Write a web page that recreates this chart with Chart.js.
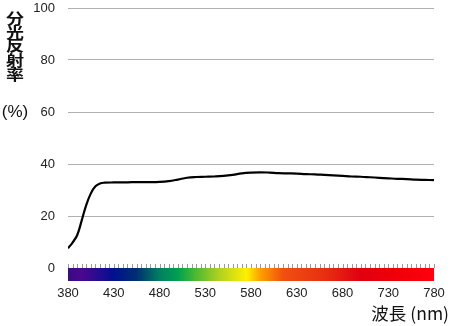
<!DOCTYPE html>
<html><head><meta charset="utf-8">
<script src="https://cdn.jsdelivr.net/npm/chart.js@4/dist/chart.umd.min.js"></script>
<style>html,body{margin:0;padding:0;background:#fff;}#wrap{width:450px;height:326px;position:relative;}</style>
</head><body><div id="wrap"><canvas id="c" width="450" height="326"></canvas></div>
<script>
const wavelengths = [380,385,390,395,400,405,410,415,420,430,440,450,460,470,480,490,500,510,520,530,540,550,560,570,580,590,600,610,620,630,640,650,660,670,680,690,700,710,720,730,740,750,760,770,780];
const reflectance = [7.6,9.8,12.6,18.3,24.3,28.7,31.4,32.5,32.8,32.9,32.9,33.0,33.0,33.0,33.1,33.4,34.0,34.7,35.0,35.1,35.2,35.4,35.8,36.4,36.7,36.8,36.7,36.5,36.4,36.3,36.1,36.0,35.8,35.6,35.4,35.2,35.1,34.9,34.7,34.5,34.3,34.2,34.0,33.9,33.8];
const xTicks = [380,430,480,530,580,630,680,730,780];
const yTicks = [0,20,40,60,80,100];
const yTitleChars = ['分','光','反','射','率'];
const yTitleUnit = '(%)';
const xTitle = '波長 (nm)';
const spectrumStops = [[380,'#3a0a85'],[395,'#4b0890'],[430,'#00108f'],[455,'#00306f'],[480,'#008060'],[500,'#00a050'],[520,'#50b830'],[545,'#b0d020'],[575,'#fff000'],[590,'#ffa000'],[615,'#f05010'],[660,'#e83010'],[700,'#e00010'],[740,'#f00008'],[780,'#ff0010']];

const decor = {
  id:'decor',
  afterDraw(chart){
    const ctx = chart.ctx, xs = chart.scales.x, ys = chart.scales.y;
    const y0 = ys.getPixelForValue(0);
    const xl = xs.getPixelForValue(380), xr = xs.getPixelForValue(780);
    ctx.save();
    const g = ctx.createLinearGradient(xl,0,xr,0);
    spectrumStops.forEach(s=>g.addColorStop((s[0]-380)/400, s[1]));
    ctx.fillStyle = g;
    ctx.fillRect(xl, y0, xr-xl, 13);
    ctx.strokeStyle = '#9a9a9a'; ctx.lineWidth = 1;
    ctx.beginPath();
    for (let w=380; w<=780; w+=5){
      const px = Math.round(xs.getPixelForValue(w))+0.5;
      ctx.moveTo(px, y0-4); ctx.lineTo(px, y0);
    }
    ctx.stroke();
    // y title
    ctx.fillStyle = '#111';
    ctx.textAlign = 'center'; ctx.textBaseline = 'middle';
    ctx.font = 'bold 18px "Noto Sans CJK JP"';
    const ys0 = [18.5,33,46,60.5,75];
    yTitleChars.forEach((ch,i)=>{
      ctx.save(); ctx.translate(15, ys0[i]); ctx.scale(1,0.8);
      ctx.fillText(ch, 0, 0); ctx.restore();
    });
    ctx.font = '17px "Liberation Sans", Arial';
    ctx.fillText(yTitleUnit, 15, 112);
    // x title
    ctx.textAlign = 'right';
    ctx.font = '17.5px "Noto Sans CJK JP"';
    ctx.fillText(xTitle, 449, 313);
    ctx.restore();
  }
};

new Chart(document.getElementById('c'), {
  type:'line',
  data:{ datasets:[{ data: wavelengths.map((w,i)=>({x:w,y:reflectance[i]})), borderColor:'#000', borderWidth:2.2, pointRadius:0, tension:0.4, fill:false }]},
  options:{
    responsive:false, animation:false, devicePixelRatio:1,
    layout:{ padding:{ top:8, right:16, left:0, bottom:0 } },
    plugins:{ legend:{display:false}, tooltip:{enabled:false} },
    scales:{
      x:{ type:'linear', min:380, max:780,
        afterBuildTicks(s){ s.ticks = xTicks.map(v=>({value:v})); },
        afterFit(s){ s.height = 58; s.paddingLeft = 0; s.paddingRight = 0; },
        grid:{ display:false, drawTicks:false }, border:{display:false},
        ticks:{ padding:18, color:'#222', font:{ family:'"Liberation Sans", Arial', size:13 }, maxRotation:0, autoSkip:false }
      },
      y:{ min:0, max:100,
        afterBuildTicks(s){ s.ticks = yTicks.map(v=>({value:v})); },
        afterFit(s){ s.width = 68; s.paddingTop = 0; s.paddingBottom = 0; },
        grid:{ color:'#b0b0b0', lineWidth:1, drawTicks:false }, border:{display:false},
        ticks:{ padding:13, color:'#222', font:{ family:'"Liberation Sans", Arial', size:13 } }
      }
    }
  },
  plugins:[decor]
});
</script></body></html>
